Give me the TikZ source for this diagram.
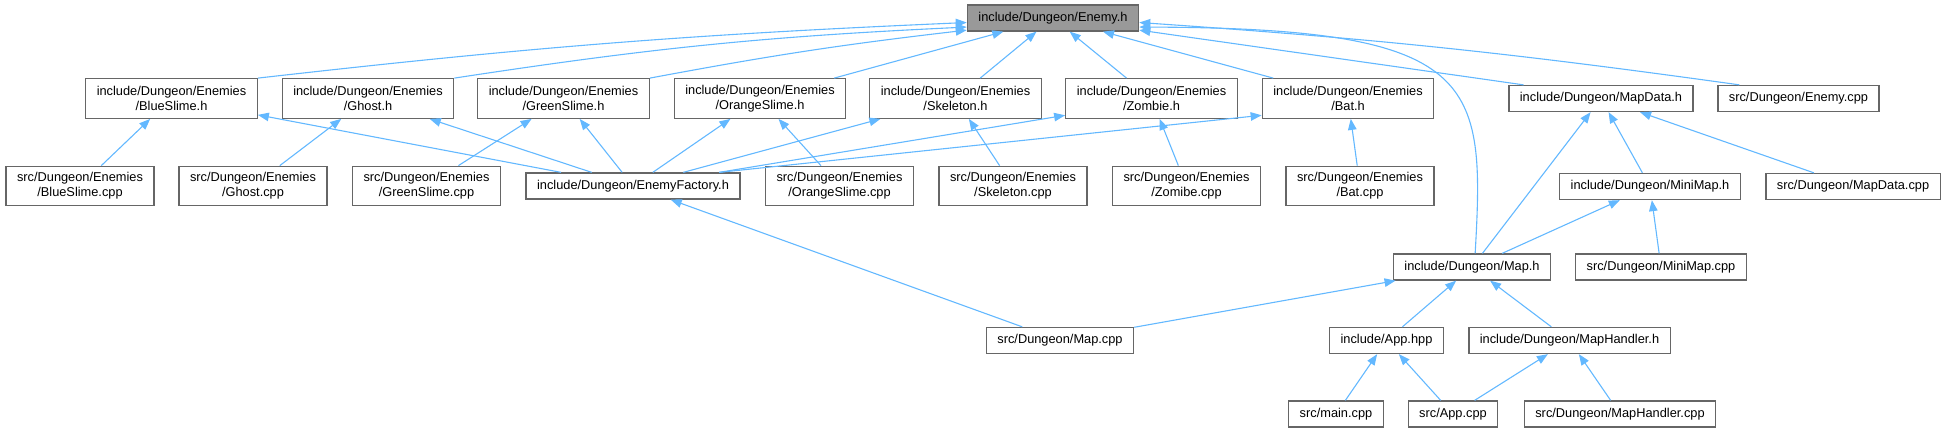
\documentclass[tikz,border=0pt]{standalone}
\usepackage{fontspec}
\setmainfont{Liberation Sans}
\usepackage{tikz}
\usetikzlibrary{arrows.meta}
\usepackage{xcolor}

\definecolor{depblue}{HTML}{63B8FF}
\definecolor{boxgrey}{HTML}{666666}
\definecolor{rootgrey}{HTML}{999999}

\begin{document}
\begin{tikzpicture}[x=1pt,y=-1pt,
    file/.style={draw=boxgrey,line width=1.3pt,fill=white,align=center,
      inner xsep=11pt,inner ysep=6pt,minimum height=26pt,
      font=\fontsize{12.8pt}{15pt}\selectfont},
    file2/.style={file,minimum height=39.5pt},
    dep/.style={depblue,line width=1.1pt,-{Triangle[length=11pt,width=8.5pt]}}]

        \useasboundingbox (0,0) rectangle (1946,432);

        %------------------
        % ノード
        %------------------

        \node[file,fill=rootgrey] (enemyh) at (1053,18) {include/Dungeon/Enemy.h};

        % Enemies/*.h と *.cpp
        \foreach \n/\x/\t in {blue/171.5/BlueSlime,ghost/368/Ghost,green/563.5/GreenSlime,
            orange/760/OrangeSlime,skel/955.5/Skeleton,zombie/1151.5/Zombie,bat/1348/Bat}
          \node[file2] (h-\n) at (\x,98.5) {include/Dungeon/Enemies\\/\t.h};
        \foreach \n/\x/\t in {blue/80/BlueSlime,ghost/253/Ghost,green/426.5/GreenSlime,
            orange/839.5/OrangeSlime,skel/1013/Skeleton,zombie/1186.5/Zomibe,bat/1360/Bat}
          \node[file2] (c-\n) at (\x,186) {src/Dungeon/Enemies\\/\t.cpp};

        \node[file] (mapdatah) at (1601,98.5) {include/Dungeon/MapData.h};
        \node[file] (enemycpp) at (1798.5,98.5) {src/Dungeon/Enemy.cpp};
        \node[file] (factoryh) at (633,186) {include/Dungeon/EnemyFactory.h};
        \node[file] (minimaph) at (1650,186.5) {include/Dungeon/MiniMap.h};
        \node[file] (mapdatacpp) at (1853,186.5) {src/Dungeon/MapData.cpp};
        \node[file] (maph) at (1472,267) {include/Dungeon/Map.h};
        \node[file] (minimapcpp) at (1661,267) {src/Dungeon/MiniMap.cpp};
        \node[file] (mapcpp) at (1060,340.5) {src/Dungeon/Map.cpp};
        \node[file] (apphpp) at (1386.5,340.5) {include/App.hpp};
        \node[file] (maphandlerh) at (1569.5,340.5) {include/Dungeon/MapHandler.h};
        \node[file] (maincpp) at (1336,414) {src/main.cpp};
        \node[file] (appcpp) at (1453,414) {src/App.cpp};
        \node[file] (maphandlercpp) at (1620,414) {src/Dungeon/MapHandler.cpp};

        %------------------
        % 依存の矢印
        %------------------

        % Enemy.h へ
        \draw[dep] (h-blue.north east) to[bend left=2] (enemyh.183);
        \draw[dep] (h-ghost.north east) to[bend left=3] (enemyh.186);
        \draw[dep] (h-green.north east) to[bend left=2] (enemyh.188);
        \foreach \n in {orange,skel,zombie,bat}
          \draw[dep] (h-\n) -- (enemyh);
        \draw[dep] (mapdatah.170) -- (enemyh.352);
        \draw[dep] (enemycpp.167) to[bend right=2] (enemyh.357);
        \draw[dep] (maph.77) .. controls (1485,80) and (1480,28) .. (enemyh.354);

        % *.cpp -> *.h
        \foreach \n in {blue,ghost,green,orange,skel,zombie,bat}
          \draw[dep] (c-\n) -- (h-\n);

        % EnemyFactory.h
        \foreach \n in {blue,ghost,green,orange,skel}
          \draw[dep] (factoryh) -- (h-\n);
        \draw[dep] (factoryh.9) -- (h-zombie.191);
        \draw[dep] (factoryh.9) -- (h-bat.191);

        % Map まわり
        \draw[dep] (mapcpp) -- (factoryh);
        \draw[dep] (mapcpp) -- (maph);
        \draw[dep] (maph) -- (mapdatah);
        \draw[dep] (maph) -- (minimaph);
        \draw[dep] (minimaph) -- (mapdatah);
        \draw[dep] (mapdatacpp) -- (mapdatah);
        \draw[dep] (minimapcpp) -- (minimaph);
        \draw[dep] (apphpp) -- (maph);
        \draw[dep] (maphandlerh) -- (maph);
        \draw[dep] (maincpp) -- (apphpp);
        \draw[dep] (appcpp) -- (apphpp);
        \draw[dep] (appcpp) -- (maphandlerh);
        \draw[dep] (maphandlercpp) -- (maphandlerh);
      \end{tikzpicture}
\end{document}
